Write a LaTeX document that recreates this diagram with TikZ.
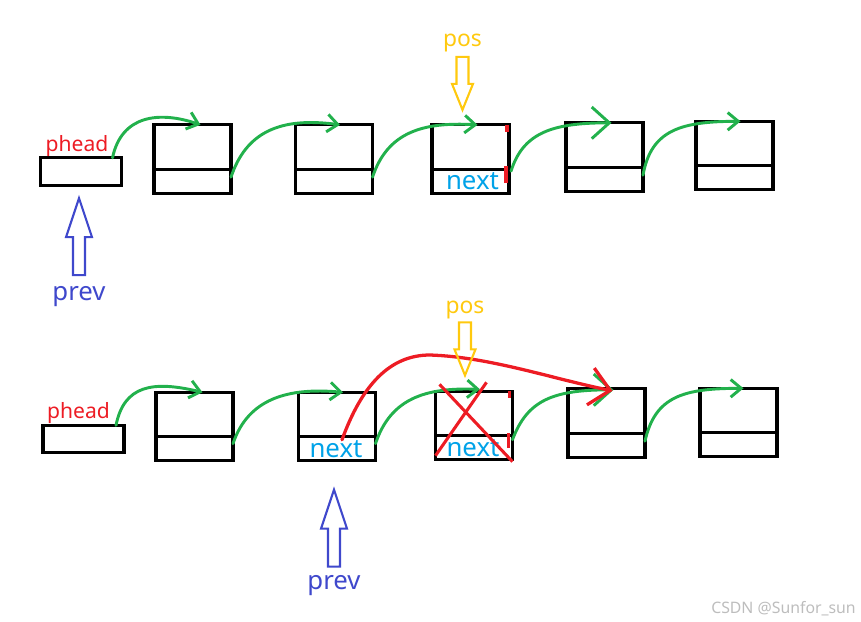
\documentclass[tikz,border=0pt]{standalone}
\usepackage{fontspec}
\setmainfont{Noto Sans}
\usetikzlibrary{positioning,arrows.meta,calc}
\definecolor{linkgreen}{HTML}{22B14C}
\definecolor{cutred}{HTML}{ED1C24}
\definecolor{prevblue}{HTML}{3F48CC}
\definecolor{posyellow}{HTML}{FFC90E}
\definecolor{nextcyan}{HTML}{00A2E8}
\definecolor{wmgray}{HTML}{BDBDBD}
\tikzset{
  cell/.style={draw=black, line width=2.6pt, minimum width=2.31cm, minimum height=2.05cm,
    inner sep=0pt, outer sep=0pt},
  headcell/.style={cell, minimum width=2.43cm, minimum height=0.82cm},
  sep/.style={draw=black, line width=2.6pt},
  link/.style={-{Straight Barb[length=9pt,width=15pt]}, line width=2.5pt, color=linkgreen, line cap=round},
  biglink/.style={link, -{Straight Barb[length=15pt,width=27pt]}},
  relink/.style={-{Straight Barb[length=17pt,width=32pt]}, line width=2.8pt, color=cutred, line cap=round},
  cross/.style={cutred, line width=2.6pt},
  redtick/.style={cutred, line width=3.2pt},
  headlab/.style={font=\fontsize{18pt}{20pt}\selectfont, text=cutred, inner sep=0pt},
  nxt/.style={font=\fontsize{22pt}{24pt}\selectfont, text=nextcyan, inner sep=0pt},
  poslab/.style={font=\fontsize{19.5pt}{22pt}\selectfont, text=posyellow, inner sep=0pt},
  prevlab/.style={font=\fontsize{22pt}{24pt}\selectfont, text=prevblue, inner sep=0pt},
  % hollow pointers, tip at the origin
  posptr/.pic={\draw[line width=1.8pt] (0,0) -- (10.5,26) -- (6,26) -- (6,53) -- (-6,53)
    -- (-6,26) -- (-10.5,26) -- cycle;},
  prevptr/.pic={\draw[line width=1.8pt] (0,0) -- (13,39) -- (6,39) -- (6,77) -- (-6,77)
    -- (-6,39) -- (-13,39) -- cycle;},
}

\begin{document}
\begin{tikzpicture}[x=0.03cm, y=-0.03cm]
  \useasboundingbox (0,0) rectangle (861,622);

  \node[headcell] (t0) at (81,171.5) {};
  \node[headcell] (b0) at (83.5,439) {};
  \foreach \n/\x/\y in {t1/192.5/159, t2/334/159, t3/470.5/159, t4/604.5/157, t5/734.5/155.5,
                        b1/194.5/426.5, b2/337/426.5, b3/474/425.5, b4/606.5/423, b5/738.5/422.5}
    \node[cell] (\n) at (\x,\y) {};
  \foreach \n in {t1,t2,t3,t4,t5,b1,b2,b3,b4,b5}
    \draw[sep] ($(\n.south west)+(0,-24)$) -- ($(\n.south east)+(0,-24)$);

  \node[headlab, anchor=base west] (ht) at ($(t0.north west)+(5,-6)$) {phead};
  \node[headlab, anchor=base west] (hb) at ($(b0.north west)+(4,-7)$) {phead};
  \node[nxt] (nt3) at ($(t3.south)+(2,-12)$) {next};
  \node[nxt] (nb2) at ($(b2.south)+(-1,-12)$) {next};
  \node[nxt] (nb3) at ($(b3.south)+(-1,-12)$) {next};

  % top list
  \draw[redtick] ($(t3.north east)+(-2,0)$) -- +(0,7);
  \draw[redtick] ($(t3.south east)+(-3,-10)$) -- +(0,-17);
  \draw[link] ($(t0.north east)+(-9,0)$) .. controls +(9,-43) and +(-41,-14) .. ($(t1.north)+(8,0)$);
  \draw[link] ($(t1.south east)+(0,-16)$) .. controls +(15,-45) and +(-60,-8) .. ($(t2.north)+(6,0)$);
  \draw[link] ($(t2.south east)+(0,-16)$) .. controls +(15,-45) and +(-55,-3) .. ($(t3.north)+(7,0)$);
  \draw[biglink] ($(t3.south east)+(2,-22)$) .. controls +(12,-38) and +(-60,0) .. ($(t4.north)+(7,0)$);
  \draw[link] ($(t4.south east)+(0,-16)$) .. controls +(8,-45) and +(-60,0) .. ($(t5.north)+(6,0)$);

  \coordinate (posT) at ($(t3.north)+(-8,-15)$);
  \pic[color=posyellow, rotate=180] at (posT) {posptr};
  \node[poslab, anchor=base] (pt) at ($(posT)+(0,-63)$) {pos};
  \coordinate (prevT) at ($(t0.south)+(-2,13)$);
  \pic[color=prevblue] at (prevT) {prevptr};
  \node[prevlab, anchor=base] (vt) at ($(prevT)+(0,102)$) {prev};

  % bottom list
  \draw[redtick] ($(b3.north east)+(-3,0)$) -- +(0,7);
  \draw[redtick] ($(b3.south east)+(-4,-12)$) -- +(0,-15);
  \draw[link] ($(b0.north east)+(-8,0)$) .. controls +(8,-40) and +(-50,-12) .. ($(b1.north)+(8,0)$);
  \draw[link] ($(b1.south east)+(0,-17)$) .. controls +(15,-45) and +(-55,-5) .. ($(b2.north)+(6,0)$);
  \draw[link] ($(b2.south east)+(0,-17)$) .. controls +(15,-45) and +(-55,-2) .. ($(b3.north)+(6,-2)$);
  \draw[biglink] ($(b3.south east)+(0,-20)$) .. controls +(15,-40) and +(-60,0) .. ($(b4.north)+(7,1)$);
  \draw[link] ($(b4.south east)+(0,-16)$) .. controls +(10,-45) and +(-60,0) .. ($(b5.north)+(5,0)$);

  \draw[cross] ($(b3.north west)+(4,-7)$) -- ($(b3.south east)+(0,2)$);
  \draw[cross] ($(b3.north east)+(-26,-9)$) -- ($(b3.south west)+(0,-4)$);
  \draw[relink] ($(nb2.north)+(6,0)$) .. controls +(20,-55) and +(-40,0) .. (430,355)
    .. controls +(60,2) and +(-60,-12) .. ($(b4.north)+(6,2)$);

  \coordinate (posB) at ($(b3.north)+(-9,-16)$);
  \pic[color=posyellow, rotate=180] at (posB) {posptr};
  \node[poslab, anchor=base] (pb) at ($(posB)+(0,-62)$) {pos};
  \coordinate (prevB) at ($(b2.south)+(-3,29)$);
  \pic[color=prevblue] at (prevB) {prevptr};
  \node[prevlab, anchor=base] (vb) at ($(prevB)+(0,100)$) {prev};

  \node[font=\fontsize{13.5pt}{16pt}\selectfont, text=wmgray, anchor=base east, inner sep=0pt]
    (wm) at (856,613) {CSDN @Sunfor\_sun};
\end{tikzpicture}
\end{document}
